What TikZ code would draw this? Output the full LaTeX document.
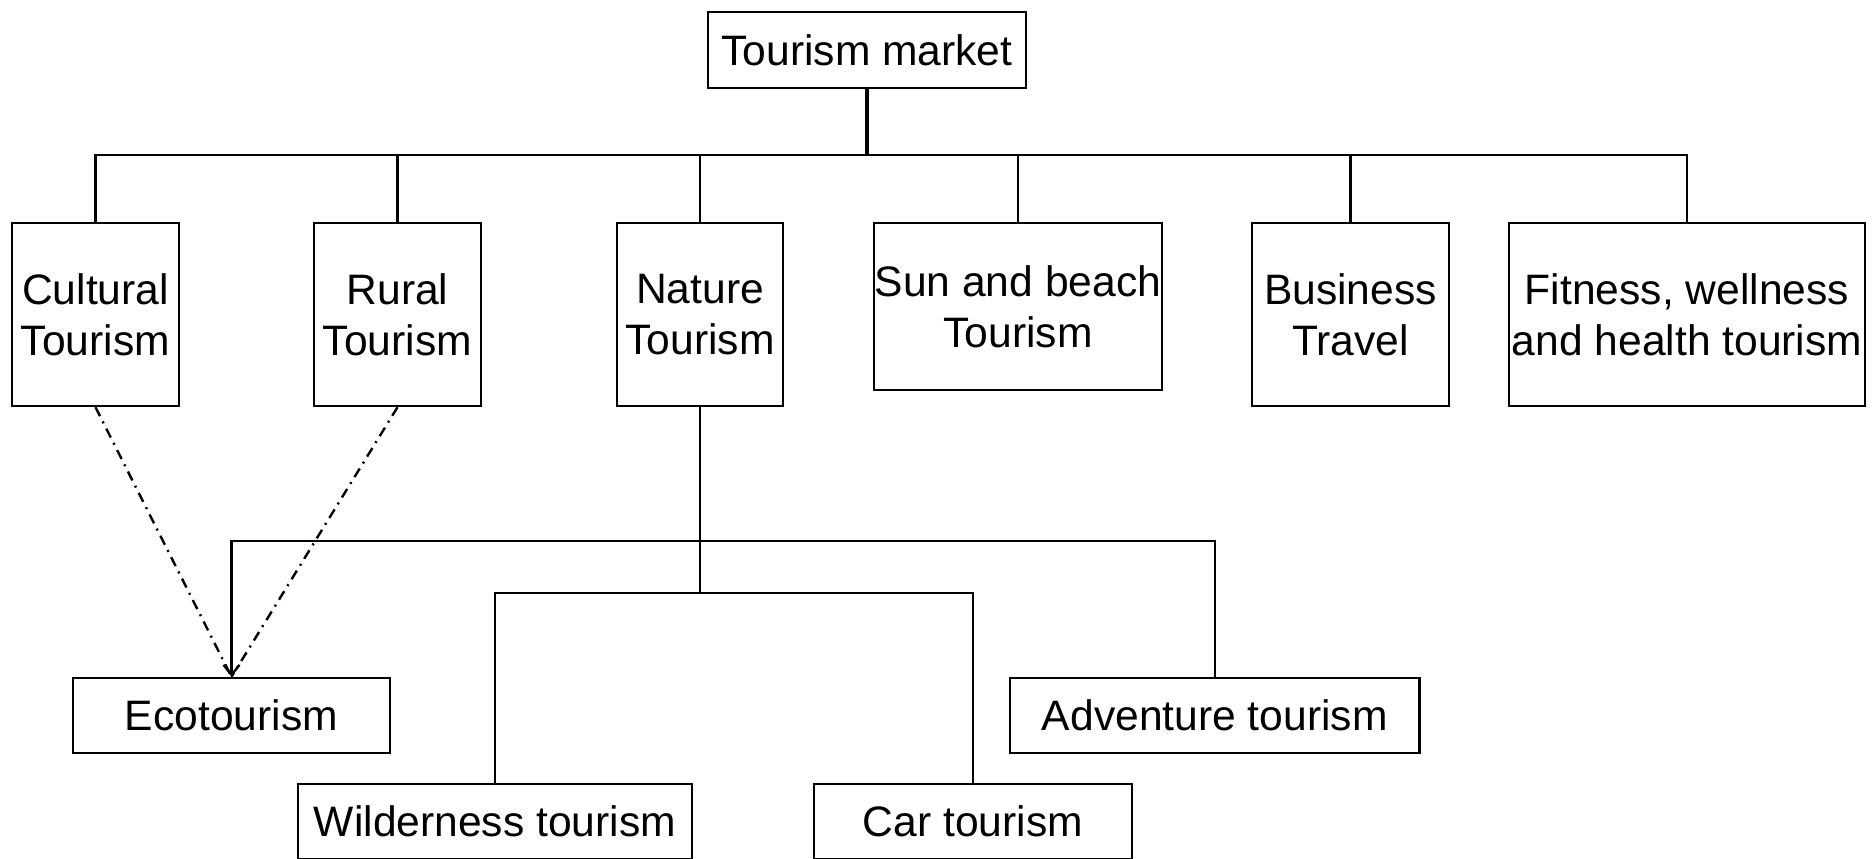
\documentclass[tikz,border=0pt]{standalone}
\usepackage{fontspec}
\setmainfont{Liberation Sans}
\usetikzlibrary{arrows.meta}
\begin{document}
\begin{tikzpicture}[x=0.5pt,y=-0.5pt,
  box/.style={draw, line width=1.2pt, inner sep=0pt, align=center,
    font=\fontsize{21.3}{25.6}\selectfont},
  conn/.style={line width=1.2pt},
  dd/.style={line width=1.2pt, dash pattern=on 5pt off 3pt on 1pt off 3pt}]
\useasboundingbox (0,0) rectangle (1872,858);
\node[box, minimum width=159pt, minimum height=38pt] (tm) at (867,50) {Tourism market};
\node[box, minimum width=83.5pt, minimum height=91.5pt] (cult) at (95.5,314.5) {Cultural\\Tourism};
\node[box, minimum width=83.5pt, minimum height=91.5pt] (rural) at (397.5,314.5) {Rural\\Tourism};
\node[box, minimum width=83pt, minimum height=91.5pt] (nat) at (700,314.5) {Nature\\Tourism};
\node[box, minimum width=144pt, minimum height=83.5pt] (sun) at (1018,306.5) {Sun and beach\\Tourism};
\node[box, minimum width=98.5pt, minimum height=91.5pt] (bus) at (1350.5,314.5) {Business\\Travel};
\node[box, minimum width=178pt, minimum height=91.5pt] (fit) at (1687,314.5) {Fitness, wellness\\and health tourism};
\node[box, minimum width=158.5pt, minimum height=37.5pt] (eco) at (231.5,715.5) {Ecotourism};
\node[box, minimum width=204.75pt, minimum height=37.5pt] (adv) at (1214.75,715.5) {Adventure tourism};
\node[box, minimum width=197pt, minimum height=37.5pt] (wild) at (495,821.5) {Wilderness tourism};
\node[box, minimum width=159pt, minimum height=37.5pt] (car) at (973,821.5) {Car tourism};
\coordinate (bar) at (0,155);
\coordinate (nj) at (0,541);
\coordinate (nj2) at (0,593);
% top level
\draw[line width=1.6pt] (tm.south) -- (tm.south |- bar);
\draw[conn] (cult.north) -- (cult.north |- bar) -- (fit.north |- bar) -- (fit.north);
\draw[conn] (rural.north) -- (rural.north |- bar);
\draw[conn] (nat.north) -- (nat.north |- bar);
\draw[conn] (sun.north) -- (sun.north |- bar);
\draw[conn] (bus.north) -- (bus.north |- bar);
% nature branch
\draw[conn] (nat.south) -- (nat.south |- nj2);
\draw[conn, -{Straight Barb[length=5pt,width=8pt]}] (nat.south |- nj) -| (eco.north);
\draw[conn] (nat.south |- nj) -| (adv.north);
\draw[conn] (wild.north) |- (car.north |- nj2) -- (car.north);
% dash-dot links
\draw[dd] (cult.south) -- (eco.north);
\draw[dd] (rural.south) -- (eco.north);
\end{tikzpicture}
\end{document}
